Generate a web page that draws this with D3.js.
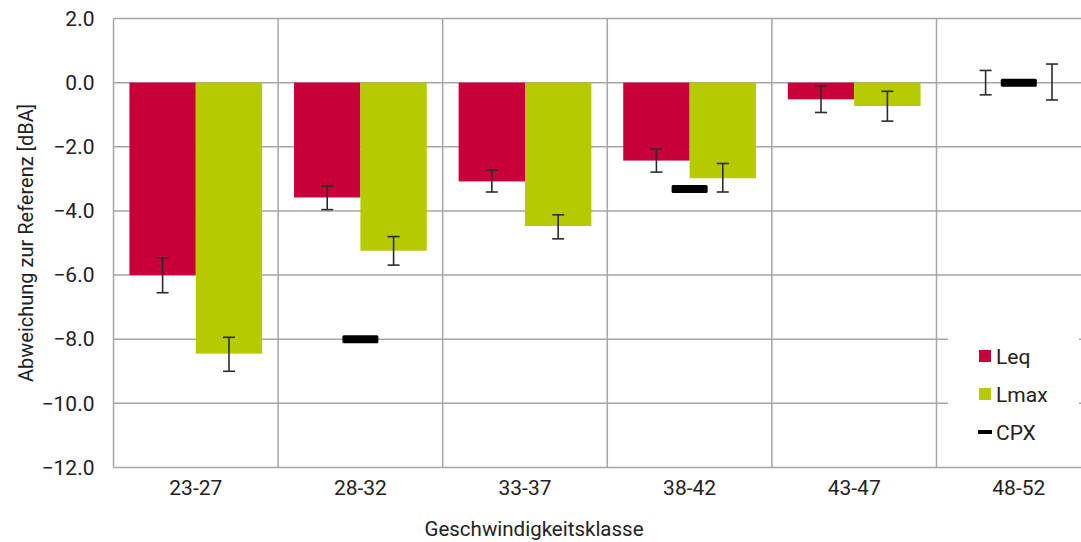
<!DOCTYPE html>
<html>
<head>
<meta charset="utf-8">
<script src="https://cdn.jsdelivr.net/npm/d3@7"></script>
<style>
  body { margin: 0; background: #fff; }
  svg { display: block; font-family: Roboto, "DejaVu Sans", sans-serif; }
</style>
</head>
<body>
<div id="chart"></div>
<script>
const categories = ["23-27", "28-32", "33-37", "38-42", "43-47", "48-52"];
const leq = [-6.0, -3.58, -3.08, -2.43, -0.52, 0.0];
const leqLow = [-6.55, -3.96, -3.41, -2.79, -0.93, -0.38];
const leqHigh = [-5.46, -3.23, -2.73, -2.07, -0.10, 0.38];
const lmax = [-8.45, -5.24, -4.47, -2.98, -0.73, 0.02];
const lmaxLow = [-9.0, -5.69, -4.87, -3.41, -1.2, -0.54];
const lmaxHigh = [-7.94, -4.8, -4.12, -2.52, -0.27, 0.58];
const cpx = [null, -8.0, null, -3.32, null, 0.0];
const yTicks = [2, 0, -2, -4, -6, -8, -10, -12];
// 48-52 only has error bars + CPX, no bars
const showBars = [true, true, true, true, true, false];

const width = 1081, height = 542;
const margin = { top: 18.5, left: 113.5, bottom: 74.5 };
const gridColor = "#a6a6a6";

const svg = d3.select("#chart").append("svg").attr("width", width).attr("height", height);

const x = d3.scaleBand().domain(categories).range([margin.left, margin.left + 6 * 164.6]);
const xs = d3.scaleBand().domain(["Leq", "Lmax"]).range([0, x.bandwidth()]).paddingOuter(0.24);
const y = d3.scaleLinear().domain([-12, 2]).range([height - margin.bottom, margin.top]);

// gridlines
svg.append("g")
  .selectAll("line")
  .data(yTicks)
  .join("line")
  .attr("x1", margin.left).attr("x2", x.range()[1])
  .attr("y1", (d) => y(d)).attr("y2", (d) => y(d))
  .attr("stroke", gridColor).attr("stroke-width", 1.5);

svg.append("g")
  .selectAll("line")
  .data(categories.concat([null]))
  .join("line")
  .attr("x1", (d) => (d ? x(d) : x.range()[1]))
  .attr("x2", (d) => (d ? x(d) : x.range()[1]))
  .attr("y1", y(2)).attr("y2", y(-12))
  .attr("stroke", gridColor).attr("stroke-width", 1.5);

// y tick labels
const yAxis = svg.append("g")
  .attr("transform", `translate(${margin.left},0)`)
  .call(d3.axisLeft(y).tickValues(yTicks).tickFormat(d3.format(".1f")).tickSize(0).tickPadding(19));
yAxis.select(".domain").remove();
yAxis.selectAll("text").attr("font-size", 21).attr("fill", "#222").attr("font-family", "Roboto");

// x tick labels
const xAxis = svg.append("g")
  .attr("transform", `translate(0,${y(-12)})`)
  .call(d3.axisBottom(x).tickSize(0).tickPadding(13));
xAxis.select(".domain").remove();
xAxis.selectAll("text").attr("font-size", 21).attr("fill", "#222").attr("font-family", "Roboto");

// bars
const rows = categories.map((c, i) => ({ c, i }));
const series = [
  { key: "Leq", vals: leq, lo: leqLow, hi: leqHigh, color: "#c8003a" },
  { key: "Lmax", vals: lmax, lo: lmaxLow, hi: lmaxHigh, color: "#b5cb00" }
];

series.forEach((s) => {
  svg.append("g")
    .selectAll("rect")
    .data(rows.filter((r) => showBars[r.i]))
    .join("rect")
    .attr("x", (r) => x(r.c) + xs(s.key))
    .attr("width", xs.bandwidth())
    .attr("y", y(0))
    .attr("height", (r) => y(s.vals[r.i]) - y(0))
    .attr("fill", s.color);
});

// error bars
series.forEach((s) => {
  const g = svg.append("g").attr("stroke", "#2b2b2b").attr("stroke-width", 1.6);
  rows.forEach((r) => {
    const cx = x(r.c) + xs(s.key) + xs.bandwidth() / 2;
    g.append("line").attr("x1", cx).attr("x2", cx).attr("y1", y(s.hi[r.i])).attr("y2", y(s.lo[r.i]));
    g.append("line").attr("x1", cx - 6).attr("x2", cx + 6).attr("y1", y(s.hi[r.i])).attr("y2", y(s.hi[r.i]));
    g.append("line").attr("x1", cx - 6).attr("x2", cx + 6).attr("y1", y(s.lo[r.i])).attr("y2", y(s.lo[r.i]));
  });
});

// CPX markers
svg.append("g")
  .selectAll("rect")
  .data(rows.filter((r) => cpx[r.i] !== null))
  .join("rect")
  .attr("x", (r) => x(r.c) + x.bandwidth() / 2 - 18)
  .attr("y", (r) => y(cpx[r.i]) - 4)
  .attr("width", 36)
  .attr("height", 8)
  .attr("rx", 1.5)
  .attr("fill", "#000");

// legend
const legend = svg.append("g").attr("transform", "translate(948,318)");
legend.append("rect").attr("width", 131).attr("height", 138).attr("fill", "#fff");
const items = [
  { name: "Leq", color: "#c8003a", type: "box" },
  { name: "Lmax", color: "#b5cb00", type: "box" },
  { name: "CPX", color: "#000", type: "line" }
];
items.forEach((it, i) => {
  const gy = 38 + i * 38;
  if (it.type === "box") {
    legend.append("rect").attr("x", 31).attr("y", gy - 6).attr("width", 12).attr("height", 12).attr("fill", it.color);
  } else {
    legend.append("rect").attr("x", 30).attr("y", gy - 2).attr("width", 14).attr("height", 4).attr("fill", it.color);
  }
  legend.append("text").attr("x", 48).attr("y", gy + 8).attr("font-size", 21).attr("fill", "#222").text(it.name);
});

// axis titles
svg.append("text")
  .attr("transform", `translate(33,${(y(2) + y(-12)) / 2}) rotate(-90)`)
  .attr("text-anchor", "middle")
  .attr("font-size", 20)
  .attr("fill", "#222")
  .text("Abweichung zur Referenz [dBA]");

svg.append("text")
  .attr("x", 534)
  .attr("y", 536)
  .attr("text-anchor", "middle")
  .attr("font-size", 20.5)
  .attr("fill", "#222")
  .text("Geschwindigkeitsklasse");
</script>
</body>
</html>
